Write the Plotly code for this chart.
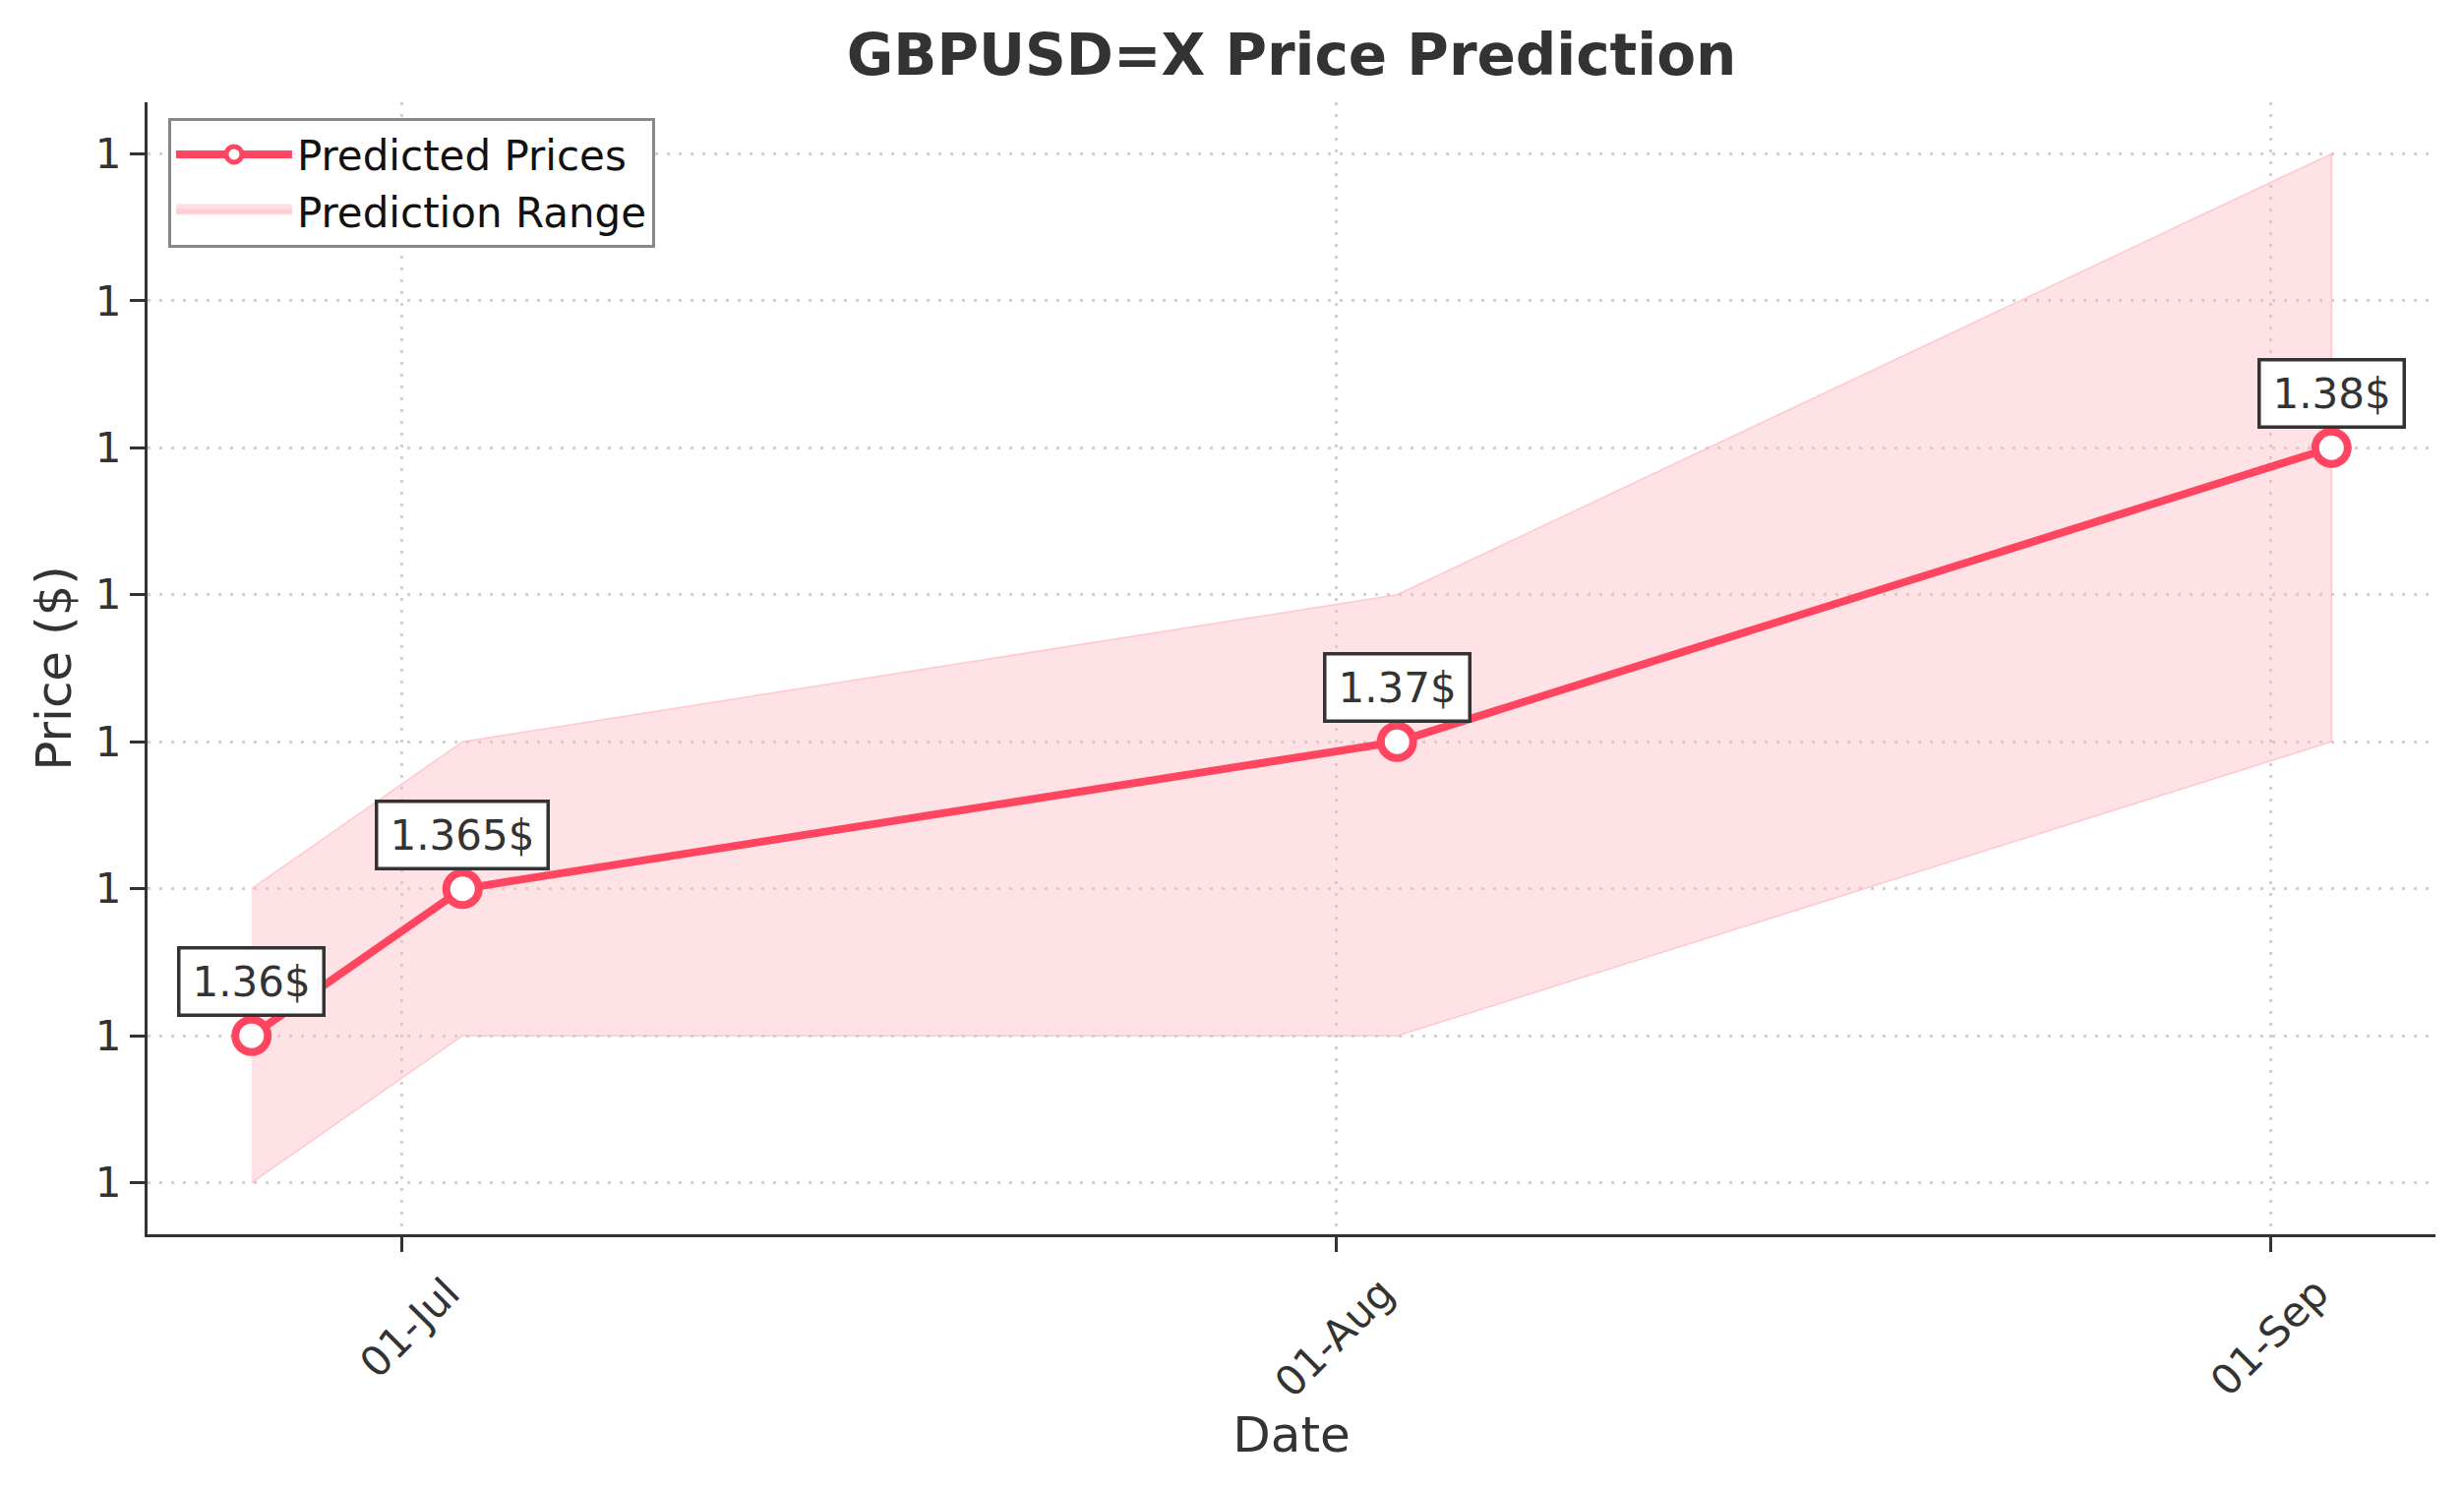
import plotly.graph_objects as go

# Prediction data
dates = ["2025-06-26", "2025-07-03", "2025-08-03", "2025-09-03"]
predicted = [1.36, 1.365, 1.37, 1.38]
lower = [1.355, 1.36, 1.36, 1.37]
upper = [1.365, 1.37, 1.375, 1.39]
labels = ["1.36$", "1.365$", "1.37$", "1.38$"]

tick_dates = ["2025-07-01", "2025-08-01", "2025-09-01"]

LINE = "#FF4560"
INK = "#333333"
FONT = "DejaVu Sans"
BAND = "rgba(255,182,193,0.4)"
BAND_EDGE = "rgba(255,182,193,0.7)"
GRID = "#d0d0d0"

# the page body adds an 8px margin, so the figure is made a bit smaller
W, H = 2497, 1505

fig = go.Figure()

# shaded prediction band
fig.add_trace(go.Scatter(
    x=dates + dates[::-1],
    y=upper + lower[::-1],
    fill="toself",
    fillcolor=BAND,
    line=dict(color=BAND_EDGE, width=1.5),
    mode="lines",
    showlegend=False,
    hoverinfo="skip",
))

fig.add_trace(go.Scatter(
    x=dates,
    y=predicted,
    mode="lines+markers",
    line=dict(color=LINE, width=8),
    marker=dict(size=33, color="white", line=dict(color=LINE, width=8)),
    name="Predicted Prices",
    legendrank=1,
))

# legend entry for the band
fig.add_trace(go.Scatter(
    x=[None], y=[None],
    mode="lines",
    fill="toself",
    fillcolor=BAND,
    line=dict(color="rgba(255,182,193,0.45)", width=10),
    name="Prediction Range",
    legendrank=2,
))

for d, p, t in zip(dates, predicted, labels):
    text_w = 42 * (0.636 * (len(t) - 1) + 0.318)
    fig.add_annotation(
        x=d, y=p, text=t, showarrow=False,
        yshift=55, yanchor="middle",
        width=text_w + 8,
        font=dict(family=FONT, size=42, color=INK),
        bgcolor="white", bordercolor=INK, borderwidth=3.5, borderpad=8,
    )

fig.update_layout(
    width=W,
    height=H,
    margin=dict(l=142, r=29, t=96, b=258),
    paper_bgcolor="white",
    plot_bgcolor="white",
    font=dict(family=FONT, size=42, color=INK),
    title=dict(
        text="GBPUSD=X Price Prediction",
        x=0.5, xref="paper", xanchor="center",
        y=1 - 48 / H, yref="container", yanchor="middle",
        font=dict(family=FONT, size=58, color=INK, weight="bold"),
    ),
    legend=dict(
        x=0.009, y=0.986, xanchor="left", yanchor="top",
        bgcolor="white", bordercolor="#888888", borderwidth=3,
        font=dict(family=FONT, size=42, color="#111111"),
        itemwidth=118,
    ),
    showlegend=True,
)

fig.update_xaxes(
    type="date",
    range=["2025-06-22 13:12", "2025-09-06 10:48"],
    tickvals=tick_dates,
    tickformat="%d-%b",
    tickangle=-45,
    ticklabelshift=46,
    ticks="outside", ticklen=15, tickwidth=3.3, tickcolor=INK,
    tickfont=dict(family=FONT, size=42, color=INK),
    showline=True, linecolor=INK, linewidth=3.3,
    showgrid=True, gridcolor=GRID, gridwidth=2.5, griddash="3px,9px",
    zeroline=False,
    title=dict(text="Date", font=dict(family=FONT, size=50, color=INK), standoff=12),
)

fig.update_yaxes(
    range=[1.35325, 1.39175],
    tickmode="linear", tick0=1.355, dtick=0.005,
    tickformat=".0f",
    ticks="outside", ticklen=15, tickwidth=3.3, tickcolor=INK,
    tickfont=dict(family=FONT, size=42, color=INK),
    showline=True, linecolor=INK, linewidth=3.3,
    showgrid=True, gridcolor=GRID, gridwidth=2.5, griddash="3px,9px",
    zeroline=False,
    title=dict(text="Price ($)", font=dict(family=FONT, size=50, color=INK), standoff=9),
)

fig.write_html("out.html")
